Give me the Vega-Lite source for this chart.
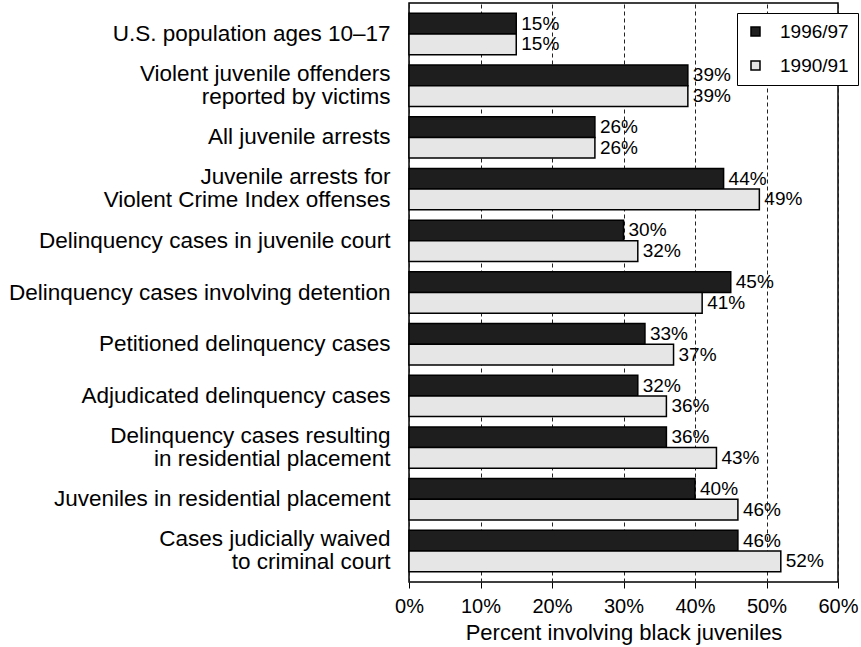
{
  "$schema": "https://vega.github.io/schema/vega-lite/v6.json",
  "width": 429,
  "height": 579,
  "autosize": "none",
  "padding": {"left": 409, "top": 3, "right": 23, "bottom": 65},
  "background": "white",
  "config": {
    "font": "Liberation Sans",
    "view": {"stroke": "black", "strokeWidth": 1.5}
  },
  "data": {
    "values": [
      {"category": "U.S. population ages 10–17", "period": "1996/97", "share": 0.15},
      {"category": "U.S. population ages 10–17", "period": "1990/91", "share": 0.15},
      {"category": "Violent juvenile offenders|reported by victims", "period": "1996/97", "share": 0.39},
      {"category": "Violent juvenile offenders|reported by victims", "period": "1990/91", "share": 0.39},
      {"category": "All juvenile arrests", "period": "1996/97", "share": 0.26},
      {"category": "All juvenile arrests", "period": "1990/91", "share": 0.26},
      {"category": "Juvenile arrests for|Violent Crime Index offenses", "period": "1996/97", "share": 0.44},
      {"category": "Juvenile arrests for|Violent Crime Index offenses", "period": "1990/91", "share": 0.49},
      {"category": "Delinquency cases in juvenile court", "period": "1996/97", "share": 0.30},
      {"category": "Delinquency cases in juvenile court", "period": "1990/91", "share": 0.32},
      {"category": "Delinquency cases involving detention", "period": "1996/97", "share": 0.45},
      {"category": "Delinquency cases involving detention", "period": "1990/91", "share": 0.41},
      {"category": "Petitioned delinquency cases", "period": "1996/97", "share": 0.33},
      {"category": "Petitioned delinquency cases", "period": "1990/91", "share": 0.37},
      {"category": "Adjudicated delinquency cases", "period": "1996/97", "share": 0.32},
      {"category": "Adjudicated delinquency cases", "period": "1990/91", "share": 0.36},
      {"category": "Delinquency cases resulting|in residential placement", "period": "1996/97", "share": 0.36},
      {"category": "Delinquency cases resulting|in residential placement", "period": "1990/91", "share": 0.43},
      {"category": "Juveniles in residential placement", "period": "1996/97", "share": 0.40},
      {"category": "Juveniles in residential placement", "period": "1990/91", "share": 0.46},
      {"category": "Cases judicially waived|to criminal court", "period": "1996/97", "share": 0.46},
      {"category": "Cases judicially waived|to criminal court", "period": "1990/91", "share": 0.52}
    ]
  },
  "encoding": {
    "y": {
      "field": "category",
      "type": "nominal",
      "sort": null,
      "scale": {"paddingInner": 0.2, "paddingOuter": 0.2},
      "axis": {
        "title": null,
        "labelExpr": "split(datum.label, '|')",
        "labelFontSize": 22.5,
        "labelColor": "black",
        "labelPadding": 19,
        "labelLineHeight": 23,
        "labelLimit": 420,
        "labelBaseline": {"condition": {"test": "indexof(datum.value, '|') >= 0", "value": "line-bottom"}, "value": "middle"},
        "ticks": false,
        "domain": false
      }
    },
    "yOffset": {"field": "period", "type": "nominal", "sort": ["1996/97", "1990/91"]},
    "x": {
      "field": "share",
      "type": "quantitative",
      "scale": {"domain": [0, 0.6]},
      "axis": {
        "format": ".0%",
        "values": [0, 0.1, 0.2, 0.3, 0.4, 0.5, 0.6],
        "title": "Percent involving black juveniles",
        "titleFontSize": 22,
        "titleFontWeight": "normal",
        "titleColor": "black",
        "titlePadding": 6,
        "labelFontSize": 20,
        "labelColor": "black",
        "labelPadding": 8,
        "labelFlush": false,
        "labelOverlap": false,
        "grid": true,
        "gridColor": "#222222",
        "gridDash": [4, 3],
        "gridWidth": 1,
        "tickColor": "black",
        "tickSize": 6,
        "domain": false
      }
    }
  },
  "layer": [
    {
      "mark": {"type": "bar", "stroke": "black", "strokeWidth": 1.5},
      "encoding": {
        "color": {
          "field": "period",
          "type": "nominal",
          "scale": {"domain": ["1996/97", "1990/91"], "range": ["#1e1e1e", "#e6e6e6"]},
          "legend": {
            "orient": "none",
            "legendX": 328,
            "legendY": 10,
            "title": null,
            "strokeColor": "black",
            "fillColor": "white",
            "padding": 9,
            "labelFontSize": 19,
            "labelColor": "black",
            "labelOffset": 15,
            "symbolType": "square",
            "symbolSize": 81,
            "rowPadding": 14,
            "encode": {
              "symbols": {
                "update": {
                  "fill": {"value": "#d4d4d4"},
                  "stroke": {"value": "black"},
                  "strokeWidth": {"value": 1.3},
                  "opacity": {"value": 1}
                }
              }
            }
          }
        }
      }
    },
    {
      "mark": {"type": "text", "align": "left", "baseline": "middle", "dx": 5, "fontSize": 19, "color": "black"},
      "encoding": {
        "text": {"field": "share", "type": "quantitative", "format": ".0%"}
      }
    }
  ]
}
